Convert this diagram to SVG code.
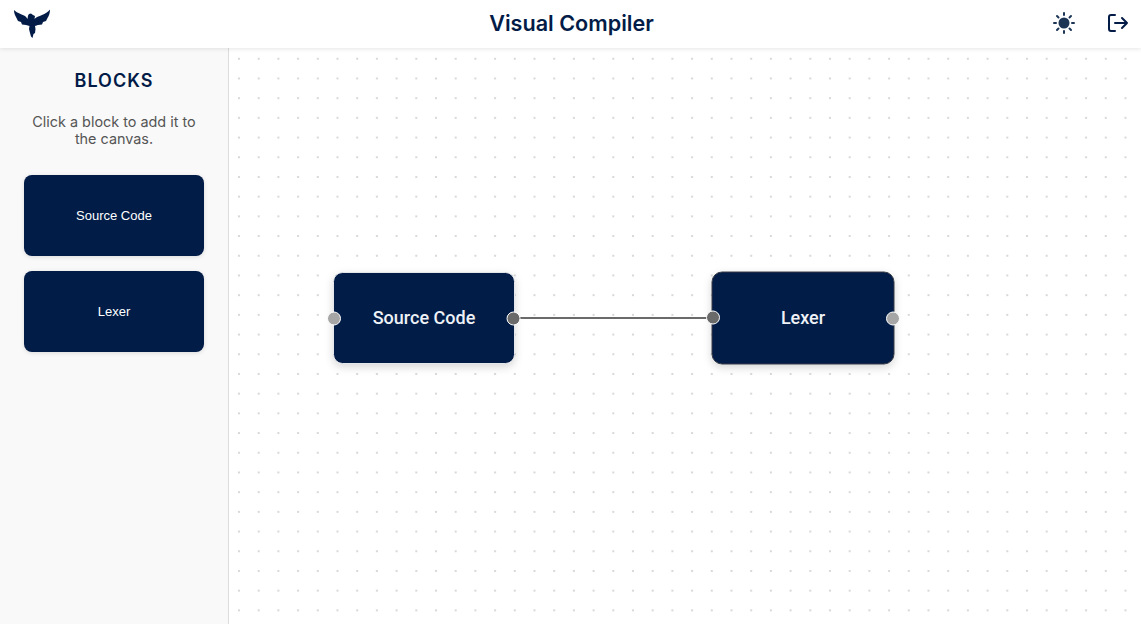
<svg xmlns="http://www.w3.org/2000/svg" width="1141" height="624" viewBox="0 0 1141 624">
<style>
.ui{font-family:Inter,"Liberation Sans",sans-serif}
.block{fill:#031b47}
.pal{font-family:"Liberation Sans",Arial,sans-serif;font-size:13px;fill:#fff;text-anchor:middle}
.nt{font-family:Roboto,"Liberation Sans",sans-serif;font-size:18px;font-weight:500;fill:#eef1f6;text-anchor:middle}
.idle{fill:#a6a6a6;stroke:#fff;stroke-width:1}
.on{fill:#6a6a6a;stroke:#fff;stroke-width:1}
</style>
<defs>
<pattern id="dots" x="229.15" y="48.9" width="19.7" height="19.7" patternUnits="userSpaceOnUse"><rect x="8.850" y="8.850" width="2" height="2" rx=".5" fill="#d6d6d6"/></pattern>
<filter id="sh" x="-20%" y="-20%" width="140%" height="150%"><feDropShadow dx="0" dy="3" stdDeviation="4" flood-color="#000" flood-opacity=".16"/></filter>
<filter id="sh2" x="-10%" y="-10%" width="120%" height="130%"><feDropShadow dx="0" dy="1" stdDeviation="2" flood-color="#000" flood-opacity=".12"/></filter>
<filter id="hs" x="-5%" y="-20%" width="110%" height="160%"><feDropShadow dx="0" dy="1" stdDeviation="2" flood-color="#000" flood-opacity=".1"/></filter>
</defs>
<rect width="1141" height="624" fill="#fff"/>
<rect x="229" y="48" width="912" height="576" fill="url(#dots)"/>
<g id="sidebar">
<rect x="0" y="48" width="228" height="576" fill="#f9f9f9"/>
<rect x="228" y="48" width="1" height="576" fill="#dcdcdc"/>
<text class="ui" x="114" y="87" font-size="18" font-weight="600" letter-spacing="1" fill="#031b47" text-anchor="middle">BLOCKS</text>
<text class="ui" x="114" y="127" font-size="14.4" fill="#555" text-anchor="middle">Click a block to add it to</text>
<text class="ui" x="114" y="144" font-size="14.4" fill="#555" text-anchor="middle">the canvas.</text>
</g>
<g id="palette-source">
<rect class="block" x="24" y="175" width="180" height="81" rx="8" filter="url(#sh2)"/>
<text class="pal" x="114" y="220">Source Code</text>
</g>
<g id="palette-lexer">
<rect class="block" x="24" y="271" width="180" height="81" rx="8" filter="url(#sh2)"/>
<text class="pal" x="114" y="316">Lexer</text>
</g>
<g id="header">
<rect x="0" y="0" width="1141" height="48" fill="#fff" filter="url(#hs)"/>
<text class="ui" x="571.5" y="31" font-size="21.6" font-weight="600" fill="#031b47" text-anchor="middle">Visual Compiler</text>
<path id="logo" fill="#031b47" d="M14 10 C17 13 21 14 24 15.500 C26 16.500 27 18 27.500 19 C28 17 27.500 15.500 29 14 L31 13.500 L33 15 L35 16 L34.500 19 C36 17 39 16.500 42 15 C45 14 48 12 50 9.500 C50 13 49 16 47.500 18 L46 21 L43 22 L42 24.500 L38 25 L35 26 L35.500 29 L35 33 L33.500 34 L32.500 38 L31 36.500 L30 33 L29 29 L29.500 26 L26 25 L22 24.500 L21 22 L18 21 L16.500 18 C15 15.500 14 13 14 10Z"/>
<g id="theme-icon" stroke="#1c3555" stroke-width="2" stroke-linecap="round">
<circle cx="1064" cy="23" r="5.500" fill="#1c3555" stroke="none"/>
<path d="M1064 13v2M1064 31v2M1054 23h2M1072 23h2M1057 16l1.500 1.500M1069.500 28.500l1.500 1.500M1057 30l1.500-1.500M1069.500 17.500l1.500-1.500" fill="none"/>
</g>
<g id="logout-icon" fill="none" stroke="#031b47" stroke-width="2" stroke-linecap="round" stroke-linejoin="round">
<path d="M1115 15h-4a2 2 0 0 0-2 2v12a2 2 0 0 0 2 2h4"/>
<path d="M1115 23h12M1122 18l5 5-5 5"/>
</g>
</g>
<g id="connectors">
<path d="M514 318H713" fill="none" stroke="#6a6a6a" stroke-width="2"/>
</g>
<g id="node-source">
<rect class="block" x="333.500" y="272.500" width="181" height="91" rx="9" stroke="#e4e6ea" stroke-width="1" filter="url(#sh)"/>
<text class="nt" x="424" y="323.500">Source Code</text>
<circle class="idle" cx="334" cy="318.500" r="6.500"/>
<circle class="on" cx="513.500" cy="318.500" r="6.500"/>
</g>
<g id="node-lexer">
<rect class="block" x="712" y="272" width="182" height="92" rx="10" stroke="#3a3f48" stroke-width="1" filter="url(#sh)"/>
<text class="nt" x="803" y="323.500">Lexer</text>
<circle class="on" cx="713" cy="317.500" r="6.500"/>
<circle class="idle" cx="893" cy="318.500" r="6.500"/>
</g>
</svg>
